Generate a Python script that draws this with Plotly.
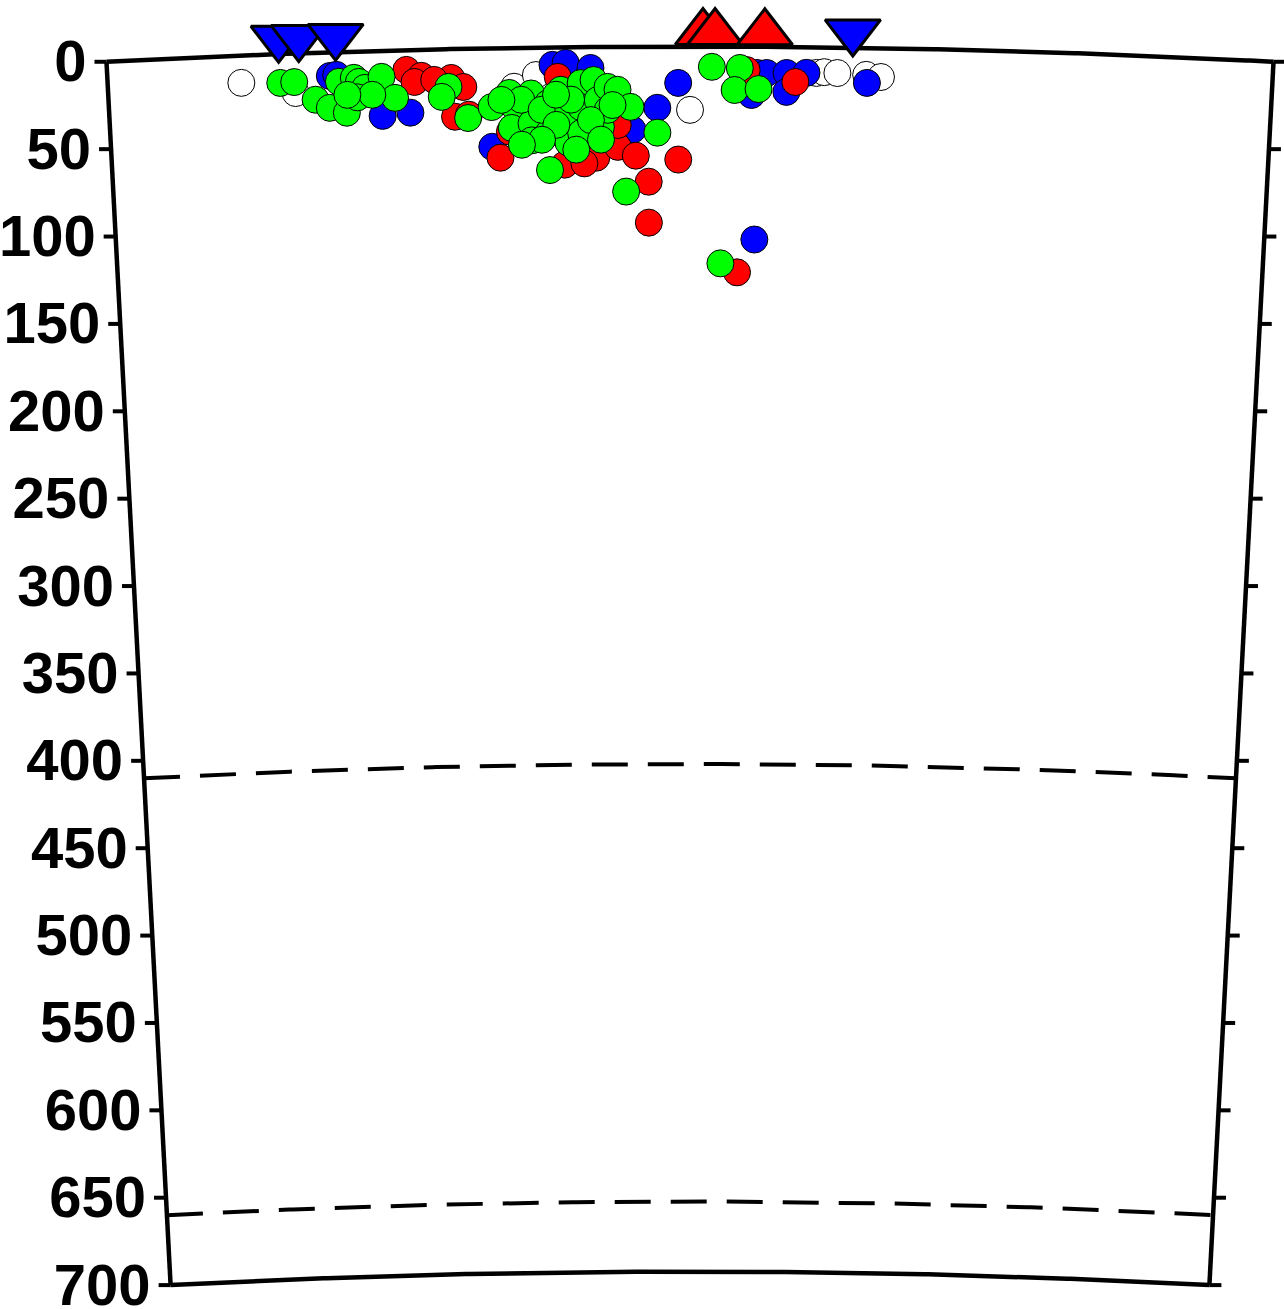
import numpy as np
import plotly.graph_objects as go

# ---------------- data (distance along profile in km, depth in km) ----------------
tick_depths = [0, 50, 100, 150, 200, 250, 300, 350, 400, 450, 500, 550, 600, 650, 700]
tick_labels = [str(d) for d in tick_depths]
discontinuity_depths = [410, 660]

white_dist = [76.5, 107.4, 232.7, 245.3, 333.6, 406.0, 410.5, 418.0, 434.5, 443.0]
white_depth = [15.6, 22.6, 22.2, 15.7, 36.2, 14.7, 14.2, 14.6, 15.4, 16.5]

blue_dist = [127.3, 131.0, 156.9, 172.9, 254.9, 262.4, 276.6, 219.6, 300.5, 314.8,
             326.8, 371.0, 368.9, 372.0, 377.5, 388.9, 400.3, 388.9, 435.0]
blue_depth = [13.5, 13.0, 37.2, 35.8, 10.0, 9.0, 12.0, 56.3, 47.5, 35.0,
              20.8, 110.2, 27.6, 15.0, 15.0, 14.9, 14.7, 25.7, 20.0]

red_dist = [171.2, 179.7, 175.7, 196.8, 203.6, 198.5, 206.5, 224.2, 229.9, 257.8,
            261.2, 279.5, 292.0, 292.0, 302.3, 326.8, 309.7, 309.7, 361.0, 394.0,
            366.0, 272.6, 187.0]
red_depth = [11.3, 14.9, 18.3, 16.5, 21.8, 38.7, 37.7, 62.6, 47.8, 16.9,
             67.1, 63.3, 57.2, 44.7, 62.3, 64.6, 77.2, 100.6, 129.0, 20.0,
             13.4, 66.5, 17.4]

green_dist = [98.8, 106.8, 118.7, 126.7, 132.4, 136.4, 141.0, 143.8, 147.2, 142.7,
              156.9, 164.3, 195.1, 191.1, 206.0, 219.6, 229.9, 232.7, 231.0, 242.4,
              242.4, 242.4, 252.1, 252.1, 259.5, 261.2, 263.5, 270.9, 270.9, 270.9,
              278.3, 280.6, 282.3, 286.3, 286.3, 292.0, 299.4, 252.7, 314.8, 296.6,
              346.1, 362.1, 359.2, 372.9, 351.3, 151.3, 137.0, 236.7, 248.3, 256.7,
              265.3, 276.6, 248.3, 268.0, 282.3, 289.1, 256.7, 225.3, 236.7]
green_depth = [16.5, 16.3, 26.8, 31.7, 17.0, 34.8, 15.0, 17.4, 20.9, 26.2,
               14.9, 27.1, 21.6, 27.2, 39.6, 33.6, 25.7, 33.7, 45.7, 26.2,
               43.3, 53.0, 31.9, 49.0, 24.3, 39.7, 54.5, 20.6, 34.3, 49.1,
               18.9, 30.4, 45.7, 22.9, 36.0, 24.6, 34.4, 70.1, 49.2, 82.8,
               11.6, 12.2, 24.8, 24.2, 123.9, 25.0, 24.6, 29.7, 35.6, 44.3,
               30.0, 41.8, 52.7, 58.6, 53.0, 33.3, 27.1, 29.6, 55.4]

station_dist = [98.8, 110.3, 131.3, 426.5]   # blue inverted triangles
volcano_dist = [341.0, 347.9, 376.3]         # red triangles

# ---------------- geometry: spherical-earth cross-section ----------------
R_EARTH = 6371.0
PROFILE_DEG = 6.0
PROFILE_LEN = np.deg2rad(PROFILE_DEG) * R_EARTH
MAX_DEPTH = 700.0
PX_PER_KM = 1.75
TICK_KM = 12 / PX_PER_KM
LABEL_GAP_KM = 8 / PX_PER_KM
LABEL_DROP_KM = 5 / PX_PER_KM
SYMBOL_ELEV_KM = 8.0


def proj(dist, depth):
    dist = np.asarray(dist, dtype=float)
    depth = np.asarray(depth, dtype=float)
    phi = (dist - PROFILE_LEN / 2) / R_EARTH
    rr = R_EARTH - depth
    return rr * np.sin(phi), R_EARTH - rr * np.cos(phi)


fig = go.Figure()
common = dict(hoverinfo="skip", showlegend=False)

# discontinuities (dashed)
arc_d = np.linspace(0, PROFILE_LEN, 300)
for dd in discontinuity_depths:
    x, y = proj(arc_d, np.full_like(arc_d, dd))
    fig.add_trace(go.Scatter(x=x, y=y, mode="lines",
                             line=dict(color="black", width=4, dash="36px,20px"), **common))

# frame
fx, fy = [], []
for dep in (0.0, MAX_DEPTH):
    x, y = proj(arc_d, np.full_like(arc_d, dep))
    fx += list(x) + [None]
    fy += list(y) + [None]
edge_dep = np.linspace(0, MAX_DEPTH, 50)
for dd in (0.0, PROFILE_LEN):
    x, y = proj(np.full_like(edge_dep, dd), edge_dep)
    fx += list(x) + [None]
    fy += list(y) + [None]
fig.add_trace(go.Scatter(x=fx, y=fy, mode="lines",
                         line=dict(color="black", width=4.5), **common))

# ticks on both edges
xl, yl = proj(np.zeros(len(tick_depths)), tick_depths)
xr, yr = proj(np.full(len(tick_depths), PROFILE_LEN), tick_depths)
tx, ty = [], []
for a, b in zip(xl, yl):
    tx += [a - TICK_KM, a, None]
    ty += [b, b, None]
for a, b in zip(xr, yr):
    tx += [a, a + TICK_KM, None]
    ty += [b, b, None]
fig.add_trace(go.Scatter(x=tx, y=ty, mode="lines",
                         line=dict(color="black", width=4), **common))

# depth labels
fig.add_trace(go.Scatter(x=xl - TICK_KM - LABEL_GAP_KM, y=yl + LABEL_DROP_KM,
                         mode="text", text=tick_labels, textposition="middle left",
                         textfont=dict(family="Liberation Sans, Arial, sans-serif", size=58,
                                       color="black", weight="bold"),
                         **common))

# events
for dist, dep, col in ((white_dist, white_depth, "#FFFFFF"),
                       (blue_dist, blue_depth, "#0000FF"),
                       (red_dist, red_depth, "#FF0000"),
                       (green_dist, green_depth, "#00FF00")):
    x, y = proj(dist, dep)
    fig.add_trace(go.Scatter(x=x, y=y, mode="markers",
                             marker=dict(size=27, color=col, line=dict(color="black", width=1)),
                             **common))

# surface symbols
x, y = proj(volcano_dist, np.full(len(volcano_dist), -SYMBOL_ELEV_KM))
fig.add_trace(go.Scatter(x=x, y=y, mode="markers",
                         marker=dict(symbol="triangle-up", size=48, color="#FF0000",
                                     line=dict(color="black", width=3)), **common))
x, y = proj(station_dist, np.full(len(station_dist), -SYMBOL_ELEV_KM - 1))
fig.add_trace(go.Scatter(x=x, y=y, mode="markers",
                         marker=dict(symbol="triangle-down", size=48, color="#0000FF",
                                     line=dict(color="black", width=3)), **common))

W, H = 1284, 1309
x_center_px, y_top_px = 690.0, 46.5
fig.update_layout(
    width=W, height=H,
    margin=dict(l=0, r=0, t=0, b=0),
    paper_bgcolor="white", plot_bgcolor="white",
    showlegend=False,
    xaxis=dict(visible=False, range=[-x_center_px / PX_PER_KM, (W - x_center_px) / PX_PER_KM]),
    yaxis=dict(visible=False, range=[(H - y_top_px) / PX_PER_KM, -y_top_px / PX_PER_KM]),
)

fig.write_html("out.html", config={"displayModeBar": False, "staticPlot": True},
               post_script="document.body.style.margin='0px';document.body.style.overflow='hidden';")
